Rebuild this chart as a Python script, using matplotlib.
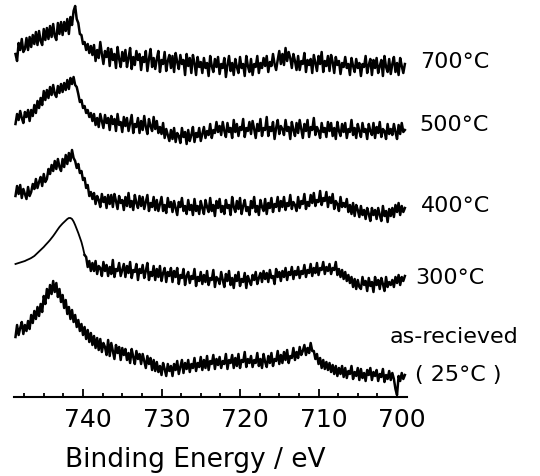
import matplotlib
matplotlib.use("Agg")
import matplotlib.pyplot as plt
import matplotlib.transforms as mtransforms
from matplotlib.ticker import MultipleLocator
import numpy as np

# binding energy grid of the scans (eV), 0.2 eV steps
energy = np.linspace(748.6, 699.0, 249)

# stacked spectra (arbitrary units, already offset)
s700 = [343, 336, 354, 347, 358, 345, 348, 359, 347, 360,
        350, 362, 353, 365, 352, 366, 356, 352, 368, 357,
        369, 358, 371, 360, 373, 361, 357, 374, 363, 375,
        362, 375, 366, 378, 363, 380, 372, 386, 391, 378,
        374, 363, 362, 353, 355, 347, 353, 344, 351, 342,
        352, 336, 347, 339, 355, 343, 333, 346, 340, 349,
        331, 348, 337, 343, 329, 350, 338, 330, 345, 336,
        347, 330, 339, 349, 328, 340, 332, 346, 337, 343,
        327, 340, 335, 346, 326, 338, 348, 330, 339, 328,
        338, 346, 325, 337, 333, 345, 326, 336, 342, 329,
        341, 325, 344, 335, 328, 342, 333, 337, 322, 343,
        331, 339, 324, 342, 334, 322, 340, 330, 335, 324,
        339, 329, 334, 321, 341, 331, 325, 338, 330, 340,
        323, 333, 329, 339, 320, 332, 341, 326, 334, 322,
        338, 330, 324, 340, 329, 333, 321, 341, 331, 325,
        338, 322, 333, 330, 341, 324, 334, 329, 339, 331,
        341, 325, 335, 331, 343, 333, 327, 337, 346, 333,
        343, 332, 349, 336, 345, 339, 329, 343, 336, 327,
        341, 327, 336, 333, 344, 325, 337, 332, 338, 324,
        342, 334, 326, 341, 333, 345, 325, 336, 331, 341,
        326, 342, 335, 324, 340, 332, 336, 323, 334, 330,
        340, 329, 333, 322, 339, 331, 325, 338, 329, 334,
        321, 333, 330, 341, 324, 332, 338, 322, 337, 329,
        339, 324, 331, 337, 321, 341, 330, 325, 338, 323,
        333, 340, 325, 334, 322, 339, 331, 324, 333]

s500 = [273, 283, 277, 286, 279, 274, 285, 280, 287, 276,
        287, 281, 292, 284, 296, 289, 299, 292, 306, 297,
        307, 299, 310, 302, 312, 303, 300, 311, 304, 313,
        305, 314, 307, 317, 308, 319, 313, 320, 312, 310,
        303, 295, 297, 289, 291, 284, 287, 280, 284, 276,
        283, 272, 279, 270, 283, 276, 269, 282, 274, 279,
        267, 281, 273, 278, 266, 283, 272, 275, 265, 280,
        271, 279, 266, 274, 282, 264, 273, 270, 279, 264,
        276, 267, 281, 270, 263, 278, 271, 266, 280, 268,
        276, 264, 270, 263, 274, 259, 268, 262, 256, 267,
        258, 269, 255, 264, 261, 254, 269, 260, 265, 253,
        267, 256, 262, 270, 255, 264, 260, 269, 256, 263,
        270, 259, 266, 262, 273, 259, 267, 264, 275, 265,
        271, 262, 275, 266, 260, 274, 265, 269, 259, 277,
        265, 273, 261, 270, 267, 278, 260, 269, 266, 275,
        263, 276, 268, 259, 273, 266, 278, 261, 269, 267,
        280, 261, 270, 266, 275, 258, 269, 277, 263, 271,
        268, 262, 277, 266, 270, 258, 275, 267, 261, 274,
        264, 277, 268, 259, 273, 266, 277, 260, 270, 267,
        279, 262, 270, 266, 259, 274, 265, 269, 260, 275,
        266, 274, 261, 269, 258, 275, 266, 261, 273, 265,
        274, 259, 268, 265, 277, 262, 269, 259, 273, 266,
        260, 274, 265, 268, 258, 273, 266, 262, 274, 259,
        270, 264, 275, 260, 268, 266, 258, 273, 263, 268,
        262, 273, 265, 258, 272, 263, 274, 265, 267]

s400 = [201, 211, 203, 212, 199, 208, 203, 198, 210, 201,
        205, 213, 208, 218, 209, 215, 220, 211, 223, 215,
        218, 228, 223, 232, 226, 236, 228, 238, 230, 226,
        238, 230, 242, 233, 244, 236, 247, 239, 236, 229,
        233, 224, 226, 217, 219, 209, 212, 201, 205, 198,
        204, 193, 201, 197, 190, 203, 195, 200, 189, 202,
        193, 202, 190, 203, 196, 188, 201, 194, 197, 187,
        200, 191, 204, 190, 196, 187, 202, 194, 189, 201,
        191, 200, 188, 195, 202, 186, 194, 190, 200, 187,
        197, 186, 193, 200, 186, 192, 184, 199, 190, 195,
        185, 196, 189, 182, 195, 190, 199, 186, 191, 183,
        197, 187, 192, 182, 198, 186, 191, 183, 196, 189,
        183, 197, 190, 185, 199, 186, 192, 181, 196, 189,
        198, 185, 191, 183, 197, 189, 192, 182, 200, 190,
        185, 196, 188, 199, 183, 191, 197, 186, 190, 182,
        196, 189, 200, 185, 191, 182, 197, 190, 186, 198,
        183, 194, 189, 199, 185, 193, 190, 200, 186, 196,
        190, 200, 187, 194, 191, 202, 188, 195, 192, 186,
        200, 189, 196, 193, 203, 188, 195, 191, 202, 194,
        204, 191, 197, 195, 206, 192, 199, 196, 205, 190,
        200, 194, 203, 188, 196, 193, 186, 200, 190, 194,
        190, 198, 185, 192, 183, 194, 181, 192, 187, 180,
        191, 182, 187, 178, 189, 183, 176, 189, 182, 187,
        178, 189, 182, 176, 191, 181, 186, 175, 188, 181,
        189, 180, 192, 185, 194, 182, 191, 185, 189]

s300 = [133, 133.5, 134, 134.5, 135, 135.5, 136, 136.8, 137.5, 138.2,
        139, 140, 141, 142.5, 144, 145.5, 147, 148.5, 150, 151.8,
        153.5, 155.2, 157, 159, 161, 163.2, 165.5, 167.8, 170, 171.8,
        173.5, 175, 176.5, 178, 179, 179, 178, 175.5, 172, 168,
        164, 159.5, 155, 149, 142, 140, 130, 136, 126, 134,
        126, 136, 123, 131, 129, 121, 135, 126, 132, 121,
        130, 123, 137, 120, 128, 126, 134, 121, 127, 133,
        120, 131, 124, 135, 119, 127, 125, 133, 117, 128,
        124, 132, 119, 126, 134, 117, 125, 121, 131, 117,
        128, 120, 131, 116, 124, 129, 115, 125, 121, 129,
        115, 126, 120, 129, 113, 122, 119, 128, 112, 121,
        125, 114, 121, 118, 128, 111, 120, 116, 125, 113,
        122, 115, 126, 112, 119, 117, 127, 110, 120, 118,
        113, 125, 117, 110, 123, 116, 126, 112, 119, 109,
        122, 116, 125, 111, 118, 115, 124, 109, 121, 116,
        112, 122, 117, 125, 113, 119, 124, 115, 126, 118,
        124, 115, 127, 119, 121, 113, 128, 120, 125, 116,
        126, 120, 129, 117, 125, 122, 130, 118, 126, 122,
        130, 119, 126, 123, 132, 120, 127, 124, 133, 121,
        129, 124, 134, 122, 129, 127, 135, 123, 130, 126,
        133, 123, 129, 127, 135, 122, 128, 120, 127, 118,
        125, 116, 122, 114, 120, 110, 118, 108, 117, 110,
        108, 120, 112, 116, 106, 119, 111, 115, 105, 120,
        112, 117, 108, 119, 113, 106, 120, 110, 115, 112,
        117, 110, 120, 114, 122, 112, 120, 116, 121]

s25 = [60, 72, 62, 69, 75, 63, 72, 66, 76, 68,
       82, 74, 86, 78, 90, 81, 93, 85, 101, 93,
       108, 99, 112, 103, 116, 105, 114, 100, 108, 95,
       102, 89, 97, 83, 90, 78, 87, 75, 82, 70,
       77, 66, 73, 62, 70, 58, 67, 55, 64, 52,
       61, 49, 59, 47, 58, 45, 54, 50, 42, 57,
       41, 54, 46, 38, 52, 44, 50, 37, 49, 42,
       48, 37, 44, 34, 48, 40, 33, 46, 38, 43,
       33, 43, 36, 29, 41, 33, 39, 27, 37, 26,
       35, 25, 31, 22, 34, 28, 21, 33, 26, 31,
       21, 33, 27, 36, 23, 30, 37, 24, 34, 28,
       37, 25, 33, 29, 39, 26, 34, 30, 40, 27,
       37, 29, 41, 27, 36, 33, 42, 28, 38, 32,
       40, 29, 36, 33, 43, 28, 37, 34, 42, 29,
       39, 31, 43, 29, 37, 35, 45, 30, 38, 34,
       41, 30, 37, 34, 44, 31, 38, 29, 43, 35,
       30, 41, 34, 44, 31, 38, 36, 46, 33, 42,
       34, 45, 37, 47, 34, 41, 39, 49, 37, 45,
       39, 50, 42, 46, 52, 42, 49, 44, 54, 46,
       46, 38, 43, 33, 39, 29, 37, 28, 35, 27,
       34, 25, 32, 23, 31, 21, 29, 23, 31, 20,
       29, 19, 26, 23, 31, 18, 25, 21, 29, 17,
       28, 19, 24, 16, 27, 22, 29, 17, 25, 21,
       27, 16, 23, 20, 28, 15, 22, 18, 26, 17,
       24, 18, 8, 2, 21, 16, 24, 18, 22]

labels = ["700°C", "500°C", "400°C", "300°C", "as-recieved", "( 25°C )"]
label_x = [697.07, 697.2, 696.94, 697.7, 700.9, 697.7]
label_y = [336, 273, 192, 120, 61, 23]

major_ticks = [740, 730, 720, 710, 700]

fig = plt.figure(figsize=(5.4, 4.77), dpi=100)
ax = fig.add_axes([14 / 540, 79 / 477, (407 - 14) / 540, 1 - 79 / 477])

# the noisy scans print as heavy bands; the smooth part of the 300 C scan is thin
for s in [s700, s500, s400, s25]:
    ax.plot(energy, s, color='k', linewidth=1.8)
ax.plot(energy[:45], s300[:45], color='k', linewidth=1.3)
ax.plot(energy[44:], s300[44:], color='k', linewidth=1.8)

for t, x, y in zip(labels, label_x, label_y):
    ax.text(x, y, t, fontsize=16, ha='left', va='center', clip_on=False)

ax.set_xlim(748.79, 698.73)
ax.set_ylim(0, 398)

for side in ['left', 'right', 'top']:
    ax.spines[side].set_visible(False)
ax.spines['bottom'].set_linewidth(1.5)
ax.set_yticks([])

ax.set_xticks(major_ticks)
ax.set_xticklabels([str(t) for t in major_ticks])
ax.xaxis.set_minor_locator(MultipleLocator(2.5))
ax.tick_params(axis='x', which='major', direction='in', length=6, width=1.3,
               labelsize=18, pad=7)
ax.tick_params(axis='x', which='minor', direction='in', length=3, width=1.3)

offset = mtransforms.ScaledTranslation(5 / 100, 0, fig.dpi_scale_trans)
for lab in ax.get_xticklabels():
    lab.set_transform(lab.get_transform() + offset)

fig.text(195 / 540, 1 - 460 / 477, "Binding Energy / eV", fontsize=19,
         ha='center', va='center')

fig.savefig("out.png", dpi=100)
